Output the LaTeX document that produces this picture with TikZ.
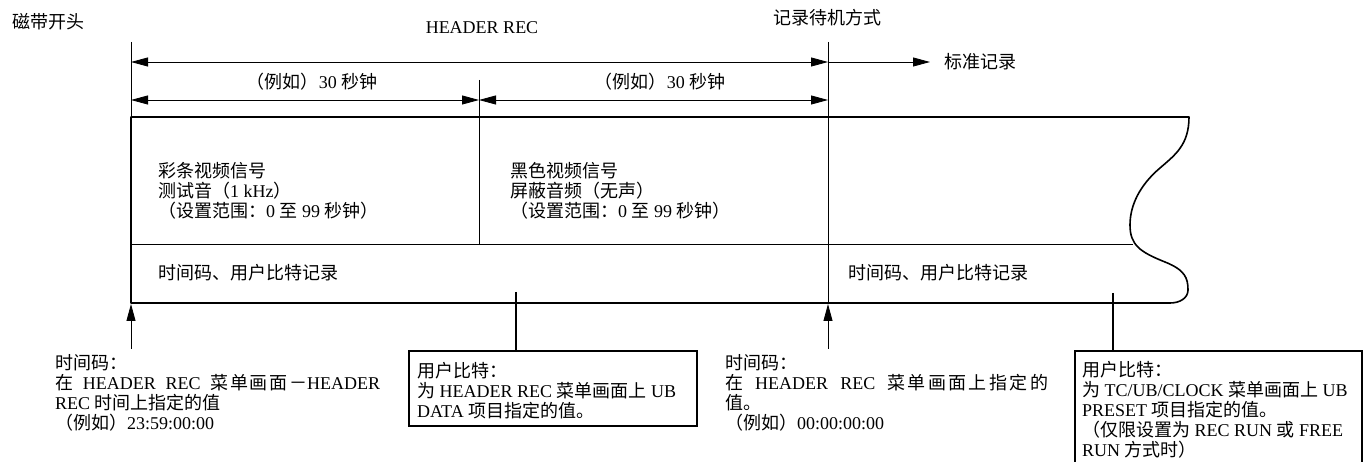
\documentclass[tikz,border=0pt]{standalone}
\usepackage{fontspec}
\setmainfont{Liberation Serif}
\newfontfamily\cjk{Noto Sans CJK SC}
\usetikzlibrary{arrows.meta}
\newcommand\zh[1]{{\cjk #1}}
\newcommand\wg{\hskip 4pt plus 1fil\relax}
\newcommand\cg{\hskip 0pt plus 0.3fil\relax}
\begin{document}
\begin{tikzpicture}[x=1pt,y=-1pt,
  txt/.style={font=\fontsize{18}{20}\selectfont, inner sep=0pt, align=left},
  thinln/.style={line width=0.7pt},
  tapeln/.style={line width=1.6pt, line join=round},
  dimln/.style={line width=0.8pt, {Triangle[length=17pt,width=9pt]}-{Triangle[length=17pt,width=9pt]}},
  oneway/.style={line width=0.8pt, -{Triangle[length=17pt,width=9pt]}},
  ptrln/.style={line width=1.5pt},
  boxln/.style={line width=1.8pt}]
\useasboundingbox (0,0) rectangle (1369,462);

% key coordinates
\coordinate (Ltop) at (131,42);
\coordinate (Ltape) at (131,117);
\coordinate (Rtop) at (828,42);
\coordinate (Rbot) at (828,303);
\coordinate (Dtop) at (479,80);
\coordinate (Dbot) at (479,244);
\coordinate (hL) at (131,62);
\coordinate (hR) at (828,62);
\coordinate (hS) at (930,62);
\coordinate (sL) at (131,100);
\coordinate (sM) at (479,100);
\coordinate (sR) at (828,100);
\coordinate (mL) at (131,244);
\coordinate (mR) at (1133,244);

% tape
\draw[tapeln] (131,117) -- (1189,117)
  .. controls (1189,145) and (1175,155) .. (1160,168)
  .. controls (1140,185) and (1130,205) .. (1130,225)
  .. controls (1130,245) and (1140,252) .. (1165,262)
  .. controls (1185,270) and (1188,278) .. (1188,290)
  .. controls (1188,298) and (1180,303) .. (1170,303)
  -- (131,303) -- cycle;
\draw[thinln] (mL) -- (mR);
\draw[thinln] (Ltop) -- (Ltape);
\draw[thinln] (Rtop) -- (Rbot);
\draw[thinln] (Dtop) -- (Dbot);

% dimension arrows
\draw[dimln] (hL) -- (hR);
\draw[oneway] (hR) -- (hS);
\draw[dimln] (sL) -- (sM);
\draw[dimln] (sM) -- (sR);

% top labels
\node[txt, anchor=west] (tapestart) at (12,22) {\zh{磁带开头}};
\node[txt, anchor=center] (hdr) at (482,28) {HEADER REC};
\node[txt, anchor=west] (standby) at (773,18) {\zh{记录待机方式}};
\node[txt, anchor=west] (stdrec) at (944,62) {\zh{标准记录}};
\node[txt, anchor=center] (ex1) at (312,82) {\zh{（例如）}30 \zh{秒钟}};
\node[txt, anchor=center] (ex2) at (660,82) {\zh{（例如）}30 \zh{秒钟}};

% tape contents
\node[txt, anchor=north west] (bars) at (158,162) {\zh{彩条视频信号}\\\zh{测试音（}1 kHz\zh{）}\\\zh{（设置范围：}0 \zh{至} 99 \zh{秒钟）}};
\node[txt, anchor=north west] (black) at (510,162) {\zh{黑色视频信号}\\\zh{屏蔽音频（无声）}\\\zh{（设置范围：}0 \zh{至} 99 \zh{秒钟）}};
\node[txt, anchor=west] (tc1) at (158,273) {\zh{时间码、用户比特记录}};
\node[txt, anchor=west] (tc2) at (848,273) {\zh{时间码、用户比特记录}};

% bottom pointers
\coordinate (a1s) at (131,349);
\coordinate (a1e) at (131,304);
\coordinate (a2s) at (828,349);
\coordinate (a2e) at (828,304);
\draw[oneway] (a1s) -- (a1e);
\draw[oneway] (a2s) -- (a2e);

\node[txt, anchor=north west] (leftnote) at (55,354) {\zh{时间码：}\\\makebox[325pt][s]{\zh{在}\wg HEADER\wg REC\wg\zh{菜}\cg\zh{单}\cg\zh{画}\cg\zh{面}\cg\zh{－}HEADER}\\REC \zh{时间上指定的值}\\\zh{（例如）}23:59:00:00};
\node[txt, anchor=north west] (rightnote) at (725,354) {\zh{时间码：}\\\makebox[323pt][s]{\zh{在}\wg HEADER\wg REC\wg\zh{菜}\cg\zh{单}\cg\zh{画}\cg\zh{面}\cg\zh{上}\cg\zh{指}\cg\zh{定}\cg\zh{的}}\\\zh{值。}\\\zh{（例如）}00:00:00:00};

% box 1
\coordinate (p1t) at (516,292);
\coordinate (p1b) at (516,351);
\draw[ptrln] (p1t) -- (p1b);
\draw[boxln] (409,351) rectangle (697,426);
\node[txt, anchor=north west] (ub1) at (417,362) {\zh{用户比特：}\\\zh{为} HEADER REC \zh{菜单画面上} UB\\DATA \zh{项目指定的值。}};

% box 2
\coordinate (p2t) at (1113,293);
\coordinate (p2b) at (1113,351);
\draw[ptrln] (p2t) -- (p2b);
\draw[boxln] (1075,470) -- (1075,351) -- (1362,351) -- (1362,470);
\node[txt, anchor=north west] (ub2) at (1082,361) {\zh{用户比特：}\\\zh{为} TC/UB/CLOCK \zh{菜单画面上} UB\\PRESET \zh{项目指定的值。}\\\zh{（仅限设置为} REC RUN \zh{或} FREE\\RUN \zh{方式时）}};
\end{tikzpicture}
\end{document}
